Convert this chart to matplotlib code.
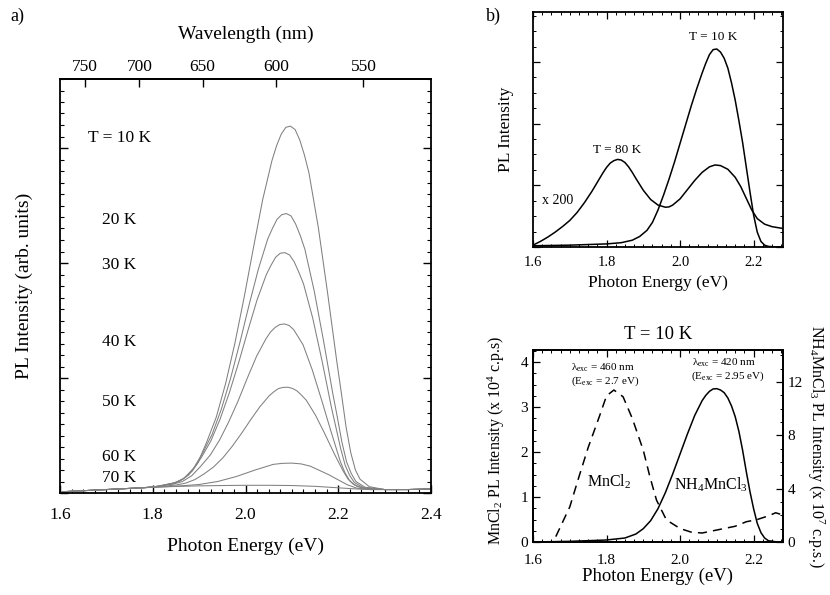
"""PL spectra of NH4MnCl3: temperature series (a), 10 K vs 80 K and MnCl2 comparison (b)."""
import matplotlib
matplotlib.use("Agg")
import matplotlib.pyplot as plt
from matplotlib.ticker import MultipleLocator, NullFormatter
import numpy as np

plt.rcParams.update({
    "font.family": ["Liberation Serif", "DejaVu Serif"],
    "mathtext.fontset": "custom",
    "mathtext.rm": "Liberation Serif",
    "mathtext.it": "Liberation Serif:italic",
    "axes.linewidth": 1.3,
    "xtick.direction": "in",
    "ytick.direction": "in",
})

# ---------------- panel a: temperature series (arb. units) ----------------
tail_lo_x = [1.60, 1.65, 1.70, 1.75, 1.78]
tail_lo_y = [0.010, 0.020, 0.030, 0.040, 0.046]
tail_hi_x = [2.30, 2.35, 2.40]
tail_hi_y = [0.030, 0.030, 0.035]

x10 = [1.817, 1.857, 1.877, 1.897, 1.917, 1.937, 1.957, 1.977, 1.997, 2.017, 2.037, 2.057,
       2.067, 2.077, 2.087, 2.097, 2.107, 2.117, 2.127, 2.137, 2.157, 2.177, 2.197, 2.207,
       2.217, 2.227, 2.237, 2.247, 2.267]
y10 = [0.06, 0.10, 0.155, 0.26, 0.45, 0.66, 0.95, 1.30, 1.70, 2.13, 2.55, 2.89,
       3.02, 3.12, 3.18, 3.19, 3.16, 3.07, 2.94, 2.78, 2.31, 1.74, 1.14, 0.86,
       0.57, 0.35, 0.20, 0.12, 0.055]
x20 = [1.808, 1.848, 1.868, 1.888, 1.908, 1.928, 1.948, 1.968, 1.988, 2.008, 2.028, 2.048,
       2.058, 2.068, 2.078, 2.088, 2.098, 2.108, 2.118, 2.128, 2.148, 2.168, 2.188, 2.198,
       2.208, 2.218, 2.228, 2.238, 2.258]
y20 = [0.057, 0.089, 0.13, 0.215, 0.35, 0.51, 0.73, 1.00, 1.31, 1.64, 1.95, 2.21,
       2.30, 2.38, 2.42, 2.43, 2.41, 2.34, 2.24, 2.12, 1.76, 1.33, 0.87, 0.66,
       0.44, 0.27, 0.17, 0.10, 0.05]
x30 = [1.805, 1.845, 1.865, 1.885, 1.905, 1.925, 1.945, 1.965, 1.985, 2.005, 2.025, 2.045,
       2.055, 2.065, 2.075, 2.085, 2.095, 2.105, 2.115, 2.125, 2.145, 2.165, 2.185, 2.195,
       2.205, 2.215, 2.225, 2.235, 2.255]
y30 = [0.055, 0.085, 0.12, 0.19, 0.31, 0.45, 0.64, 0.87, 1.13, 1.41, 1.68, 1.90,
       1.98, 2.05, 2.085, 2.09, 2.07, 2.01, 1.92, 1.82, 1.52, 1.15, 0.75, 0.57,
       0.39, 0.24, 0.15, 0.09, 0.046]
x40 = [1.804, 1.844, 1.864, 1.884, 1.904, 1.924, 1.944, 1.964, 1.984, 2.004, 2.024, 2.044,
       2.054, 2.064, 2.074, 2.084, 2.094, 2.104, 2.114, 2.124, 2.144, 2.164, 2.184, 2.194,
       2.204, 2.214, 2.224, 2.234, 2.254]
y40 = [0.054, 0.077, 0.10, 0.15, 0.235, 0.33, 0.46, 0.62, 0.80, 1.00, 1.19, 1.34,
       1.40, 1.44, 1.465, 1.47, 1.457, 1.42, 1.355, 1.29, 1.07, 0.81, 0.54, 0.41,
       0.28, 0.18, 0.11, 0.073, 0.04]
x50 = [1.811, 1.851, 1.871, 1.891, 1.911, 1.931, 1.951, 1.971, 1.991, 2.011, 2.031, 2.051,
       2.061, 2.071, 2.081, 2.091, 2.101, 2.111, 2.121, 2.131, 2.151, 2.171, 2.191, 2.201,
       2.211, 2.221, 2.231, 2.241, 2.261]
y50 = [0.054, 0.07, 0.086, 0.117, 0.167, 0.226, 0.305, 0.404, 0.516, 0.636, 0.75, 0.845,
       0.88, 0.908, 0.918, 0.92, 0.91, 0.888, 0.85, 0.807, 0.676, 0.515, 0.345, 0.266,
       0.188, 0.122, 0.083, 0.056, 0.037]
x60 = [1.82, 1.86, 1.90, 1.94, 1.98, 2.02, 2.06, 2.08, 2.10, 2.12, 2.14, 2.18, 2.20, 2.22,
       2.24, 2.27]
y60 = [0.053, 0.062, 0.074, 0.10, 0.143, 0.199, 0.249, 0.258, 0.26, 0.253, 0.233, 0.158,
       0.114, 0.071, 0.042, 0.03]
x70 = [1.82, 1.86, 1.90, 1.95, 2.00, 2.05, 2.10, 2.15, 2.20, 2.24, 2.27]
y70 = [0.053, 0.058, 0.062, 0.065, 0.067, 0.067, 0.065, 0.058, 0.045, 0.035, 0.03]

temps_a = ["T = 10 K", "20 K", "30 K", "40 K", "50 K", "60 K", "70 K"]
series_a = [(x10, y10), (x20, y20), (x30, y30), (x40, y40), (x50, y50), (x60, y60), (x70, y70)]
label_y_a = [3.09, 2.37, 1.98, 1.31, 0.79, 0.31, 0.13]
label_x_a = [1.66, 1.69, 1.69, 1.69, 1.69, 1.69, 1.69]

wl_ticks = [750, 700, 650, 600, 550]

# ---------------- panel b top: 10 K vs 80 K (x200) ----------------
xb10 = [1.60, 1.65, 1.70, 1.75, 1.80, 1.84, 1.87, 1.89, 1.91, 1.925, 1.94, 1.955, 1.97,
        1.985, 2.00, 2.015, 2.03, 2.045, 2.06, 2.07, 2.08, 2.09, 2.10, 2.11, 2.12, 2.13,
        2.14, 2.15, 2.16, 2.17, 2.18, 2.19, 2.20, 2.21, 2.22, 2.23, 2.24, 2.26, 2.28]
yb10 = [0.02, 0.025, 0.03, 0.04, 0.05, 0.07, 0.11, 0.17, 0.27, 0.40, 0.60, 0.84, 1.10,
        1.38, 1.68, 1.98, 2.28, 2.56, 2.82, 2.98, 3.12, 3.20, 3.21, 3.16, 3.06, 2.90,
        2.66, 2.38, 2.05, 1.70, 1.30, 0.90, 0.52, 0.24, 0.09, 0.03, 0.01, 0.0, 0.0]
xb80 = [1.60, 1.62, 1.64, 1.66, 1.68, 1.70, 1.72, 1.74, 1.76, 1.78, 1.79, 1.80, 1.81, 1.82,
        1.83, 1.84, 1.85, 1.86, 1.87, 1.88, 1.90, 1.92, 1.94, 1.96, 1.97, 1.98, 2.00, 2.02,
        2.04, 2.06, 2.08, 2.095, 2.11, 2.13, 2.15, 2.165, 2.18, 2.195, 2.21, 2.23, 2.25,
        2.28]
yb80 = [0.03, 0.09, 0.16, 0.24, 0.33, 0.43, 0.56, 0.72, 0.90, 1.10, 1.20, 1.29, 1.36, 1.40,
        1.42, 1.41, 1.37, 1.30, 1.21, 1.11, 0.92, 0.77, 0.68, 0.645, 0.65, 0.68, 0.78, 0.93,
        1.08, 1.21, 1.30, 1.33, 1.32, 1.26, 1.13, 0.98, 0.79, 0.60, 0.46, 0.37, 0.33,
        0.30]

# ---------------- panel b bottom: MnCl2 (x1e4 cps) vs NH4MnCl3 (x1e7 cps) ----------------
x_mn = [1.662, 1.70, 1.725, 1.75, 1.78, 1.80, 1.82, 1.845, 1.87, 1.90, 1.918, 1.936, 1.963,
        2.00, 2.03, 2.06, 2.09, 2.12, 2.15, 2.18, 2.21, 2.24, 2.26, 2.28]
y_mn = [0.12, 0.78, 1.45, 2.10, 2.78, 3.25, 3.38, 3.23, 2.75, 2.04, 1.45, 0.93, 0.49,
        0.30, 0.22, 0.20, 0.25, 0.30, 0.35, 0.45, 0.50, 0.58, 0.65, 0.60]
x_nh = [1.60, 1.70, 1.80, 1.85, 1.88, 1.90, 1.92, 1.94, 1.96, 1.98, 2.00, 2.02, 2.04, 2.06,
        2.07, 2.08, 2.09, 2.10, 2.11, 2.12, 2.13, 2.14, 2.15, 2.16, 2.17, 2.18, 2.19, 2.20,
        2.21, 2.22, 2.23, 2.24, 2.26, 2.28]
y_nh = [0.0, 0.05, 0.15, 0.30, 0.60, 1.0, 1.6, 2.5, 3.7, 5.1, 6.6, 8.1, 9.5, 10.6,
        11.0, 11.3, 11.48, 11.5, 11.4, 11.2, 10.8, 10.2, 9.4, 8.3, 6.9, 5.3, 3.8, 2.5,
        1.4, 0.7, 0.3, 0.1, 0.02, 0.0]

W, H = 830, 595
fig = plt.figure(figsize=(W / 100, H / 100), dpi=100)


def frac(l, t, r, b):
    return [l / W, 1 - b / H, (r - l) / W, (b - t) / H]


# ---- (a) ----
ax = fig.add_axes(frac(60, 79, 431, 493))
for (xs, ys) in series_a:
    ax.plot(tail_lo_x + xs + tail_hi_x, tail_lo_y + ys + tail_hi_y, color="0.5", lw=0.75)
for lab, lx, ly in zip(temps_a, label_x_a, label_y_a):
    ax.text(lx, ly, lab, fontsize=12.5, va="center")
ax.set_xlim(1.6, 2.4)
ax.set_ylim(0, 3.6)
ax.xaxis.set_major_locator(MultipleLocator(0.2))
ax.xaxis.set_minor_locator(MultipleLocator(0.025))
ax.yaxis.set_major_locator(MultipleLocator(1))
ax.yaxis.set_minor_locator(MultipleLocator(0.1))
ax.yaxis.set_major_formatter(NullFormatter())
ax.tick_params(which="both", top=False, right=True, labelsize=12.5)
ax.tick_params(axis="x", which="major", pad=10)
ax.tick_params(which="major", length=6, width=1)
ax.tick_params(which="minor", length=3, width=0.8)
ax.set_xlabel("Photon Energy (eV)", fontsize=14, labelpad=11)
ax.set_ylabel("PL Intensity (arb. units)", fontsize=14, labelpad=16)
sec = ax.secondary_xaxis("top", functions=(lambda e: 1239.84 / np.maximum(e, 1e-3),
                                           lambda w: 1239.84 / np.maximum(w, 1e-3)))
sec.set_xticks(wl_ticks)
sec.tick_params(direction="in", length=6, width=1, labelsize=12.5, pad=3)
sec.set_xlabel("Wavelength (nm)", fontsize=14, labelpad=14)
fig.text(10 / W, 1 - 16 / H, "a)", fontsize=13, va="center")

# ---- (b) top ----
bt = fig.add_axes(frac(533, 12, 783, 247))
bt.plot(xb10, yb10, color="black", lw=1.1)
bt.plot(xb80, yb80, color="black", lw=1.1)
bt.set_xlim(1.6, 2.28)
bt.set_ylim(0, 3.81)
bt.xaxis.set_major_locator(MultipleLocator(0.2))
bt.xaxis.set_minor_locator(MultipleLocator(0.025))
bt.yaxis.set_major_locator(MultipleLocator(1))
bt.yaxis.set_minor_locator(MultipleLocator(0.25))
bt.yaxis.set_major_formatter(NullFormatter())
bt.tick_params(which="both", top=True, right=True, labelsize=10.5)
bt.tick_params(axis="x", which="major", pad=6.5)
bt.tick_params(which="major", length=5, width=0.9)
bt.tick_params(which="minor", length=2.5, width=0.7)
bt.set_xlabel("Photon Energy (eV)", fontsize=12.5, labelpad=4)
bt.set_ylabel("PL Intensity", fontsize=12.5, labelpad=10)
bt.text(2.09, 3.40, "T = 10 K", fontsize=9.5, ha="center", va="center")
bt.text(1.83, 1.58, "T = 80 K", fontsize=9.5, ha="center", va="center")
bt.text(1.625, 0.76, "x 200", fontsize=10, ha="left", va="center")
fig.text(486 / W, 1 - 16 / H, "b)", fontsize=13, va="center")

# ---- (b) bottom ----
bb = fig.add_axes(frac(533, 350, 783, 542))
bb.plot(x_mn, y_mn, color="black", lw=1.1, ls=(0, (6, 4)))
bb.set_xlim(1.6, 2.28)
bb.set_ylim(0, 4.27)
bb.xaxis.set_major_locator(MultipleLocator(0.2))
bb.xaxis.set_minor_locator(MultipleLocator(0.025))
bb.yaxis.set_major_locator(MultipleLocator(1))
bb.yaxis.set_minor_locator(MultipleLocator(0.25))
bb.tick_params(which="both", top=True, right=False, labelsize=11)
bb.tick_params(axis="x", which="major", pad=9)
bb.tick_params(which="major", length=5, width=0.9)
bb.tick_params(which="minor", length=2.5, width=0.7)
bb.set_xlabel("Photon Energy (eV)", fontsize=13.5, labelpad=0)
bb.set_ylabel("MnCl$_2$ PL Intensity (x 10$^4$ c.p.s)", fontsize=11.5)
bb.yaxis.set_label_coords(-0.105, 0.53)
bb.set_title("T = 10 K", fontsize=13.5, pad=8)
br = bb.twinx()
br.plot(x_nh, y_nh, color="black", lw=1.1)
br.set_ylim(0, 14.4)
br.yaxis.set_major_locator(MultipleLocator(4))
br.yaxis.set_minor_locator(MultipleLocator(1))
br.tick_params(which="both", direction="in", labelsize=11)
br.tick_params(which="major", length=5, width=0.9)
br.tick_params(which="minor", length=2.5, width=0.7)
br.set_ylabel("NH$_4$MnCl$_3$ PL Intensity (x 10$^7$ c.p.s.)", fontsize=11.5,
              rotation=270, labelpad=17)
bb.text(1.703, 3.87, "λ$_{\\rm exc}$ = 460 nm", fontsize=8, va="center")
bb.text(1.703, 3.57, "(E$_{\\rm exc}$ = 2.7 eV)", fontsize=8, va="center")
bb.text(2.032, 3.98, "λ$_{\\rm exc}$ = 420 nm", fontsize=8, va="center")
bb.text(2.03, 3.68, "(E$_{\\rm exc}$ = 2.95 eV)", fontsize=8, va="center")
bb.text(1.808, 1.34, "MnCl$_2$", fontsize=11.5, ha="center", va="center")
bb.text(2.085, 1.27, "NH$_4$MnCl$_3$", fontsize=11.5, ha="center", va="center")

fig.savefig("out.png", dpi=100)
